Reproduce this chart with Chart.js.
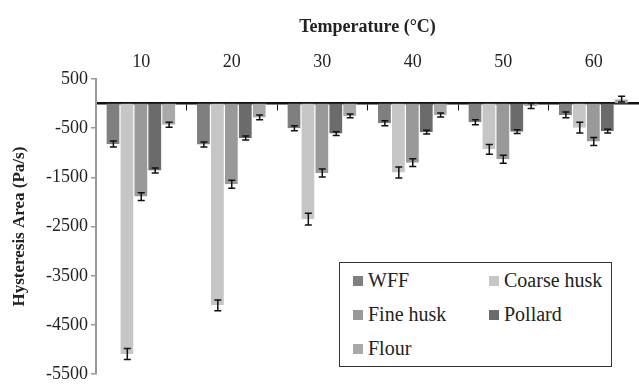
<!DOCTYPE html>
<html>
<head>
<meta charset="utf-8">
<script src="https://cdn.jsdelivr.net/npm/chart.js@4.4.1/dist/chart.umd.min.js"></script>
<style>
  body { margin: 0; background: #fff; }
  #wrap { position: relative; width: 639px; height: 388px; }
  #legend {
    position: absolute; left: 339px; top: 262px; width: 271px; height: 103px;
    border: 1.5px solid #333; background: #fff;
    display: grid; grid-template-columns: 136px 135px; grid-auto-rows: 34px;
    align-content: center; font-family: "Liberation Serif", serif;
    font-size: 20px; color: #222;
  }
  #legend .item { display: flex; align-items: center; padding-left: 13px; }
  #legend .sw { width: 10px; height: 10px; margin-right: 5px; }
</style>
</head>
<body>
<div id="wrap">
  <canvas id="chart" width="639" height="388"></canvas>
  <div id="legend"></div>
</div>
<script>
const temps = ['10', '20', '30', '40', '50', '60'];
const seriesNames = ['WFF', 'Coarse husk', 'Fine husk', 'Pollard', 'Flour'];
const seriesColors = ['#7f7f7f', '#c6c6c6', '#999999', '#6b6b6b', '#a9a9a9'];

const wff = [-820, -830, -500, -400, -380, -230];
const coarseHusk = [-5090, -4100, -2350, -1400, -930, -490];
const fineHusk = [-1890, -1640, -1410, -1200, -1130, -770];
const pollard = [-1360, -700, -610, -580, -570, -560];
const flour = [-430, -280, -250, -230, -50, 90];

const wffErr = [60, 50, 50, 50, 50, 60];
const coarseErr = [110, 110, 120, 110, 100, 110];
const fineErr = [80, 80, 80, 80, 80, 80];
const pollardErr = [50, 40, 40, 40, 40, 40];
const flourErr = [50, 50, 40, 40, 50, 60];

const yTicks = [500, -500, -1500, -2500, -3500, -4500, -5500];

const values = [wff, coarseHusk, fineHusk, pollard, flour];
const errors = [wffErr, coarseErr, fineErr, pollardErr, flourErr];

const serif = '"Liberation Serif", serif';

// error bars drawn from the y scale
const errorBars = {
  id: 'errorBars',
  afterDatasetsDraw(chart) {
    const ctx = chart.ctx;
    const y = chart.scales.y;
    ctx.save();
    ctx.strokeStyle = '#111';
    ctx.lineWidth = 1.5;
    chart.data.datasets.forEach((ds, i) => {
      const meta = chart.getDatasetMeta(i);
      meta.data.forEach((bar, j) => {
        const v = ds.data[j];
        const e = errors[i][j];
        const top = y.getPixelForValue(v + e);
        const bot = y.getPixelForValue(v - e);
        const x = bar.x;
        ctx.beginPath();
        ctx.moveTo(x, top); ctx.lineTo(x, bot);
        ctx.moveTo(x - 3.5, top); ctx.lineTo(x + 3.5, top);
        ctx.moveTo(x - 3.5, bot); ctx.lineTo(x + 3.5, bot);
        ctx.stroke();
      });
    });
    ctx.restore();
  }
};

const chart = new Chart(document.getElementById('chart'), {
  type: 'bar',
  data: {
    labels: temps,
    datasets: seriesNames.map((name, i) => ({
      label: name,
      data: values[i],
      backgroundColor: seriesColors[i],
      borderColor: 'rgba(255,255,255,0.45)',
      borderWidth: { right: 1 },
      borderSkipped: false,
      categoryPercentage: 0.77,
      barPercentage: 1.0,
      xAxisID: 'x'
    }))
  },
  options: {
    responsive: false,
    animation: false,
    layout: { padding: { left: 0, right: 0, top: 0, bottom: 9 } },
    plugins: {
      legend: { display: false },
      tooltip: { enabled: false }
    },
    scales: {
      x: {
        type: 'category',
        position: 'top',
        grid: { display: false, drawTicks: false },
        border: { display: false },
        ticks: { color: '#222', font: { family: serif, size: 18 }, padding: 6 },
        title: {
          display: true,
          text: 'Temperature (°C)',
          color: '#222',
          font: { family: serif, size: 18, weight: 'bold' },
          padding: { top: 17, bottom: 8 }
        },
        afterFit: (scale) => { scale.height = 79; }
      },
      x2: {
        type: 'category',
        labels: temps,
        position: { y: 0 },
        offset: true,
        grid: { offset: true, drawOnChartArea: false, drawTicks: true, tickLength: 6, color: '#111', lineWidth: 1 },
        border: { display: true, color: '#111', width: 2.5 },
        ticks: { display: false }
      },
      y: {
        min: -5500,
        max: 500,
        afterBuildTicks: (scale) => { scale.ticks = yTicks.map(v => ({ value: v })); },
        grid: { drawOnChartArea: false, tickLength: 5, color: '#999', lineWidth: 1.5 },
        border: { display: true, color: '#999', width: 2 },
        ticks: { color: '#222', font: { family: serif, size: 18 }, padding: 3, callback: (v) => String(v) },
        title: {
          display: true,
          text: 'Hysteresis Area (Pa/s)',
          color: '#222',
          font: { family: serif, size: 17, weight: 'bold' },
          padding: { top: 9, bottom: 4 }
        },
        afterFit: (scale) => { scale.width = 96; }
      }
    }
  },
  plugins: [errorBars]
});

// legend box built from the series arrays
const legend = document.getElementById('legend');
seriesNames.forEach((name, i) => {
  const item = document.createElement('div');
  item.className = 'item';
  const sw = document.createElement('span');
  sw.className = 'sw';
  sw.style.background = seriesColors[i];
  const txt = document.createElement('span');
  txt.textContent = name;
  item.appendChild(sw);
  item.appendChild(txt);
  legend.appendChild(item);
});
</script>
</body>
</html>
